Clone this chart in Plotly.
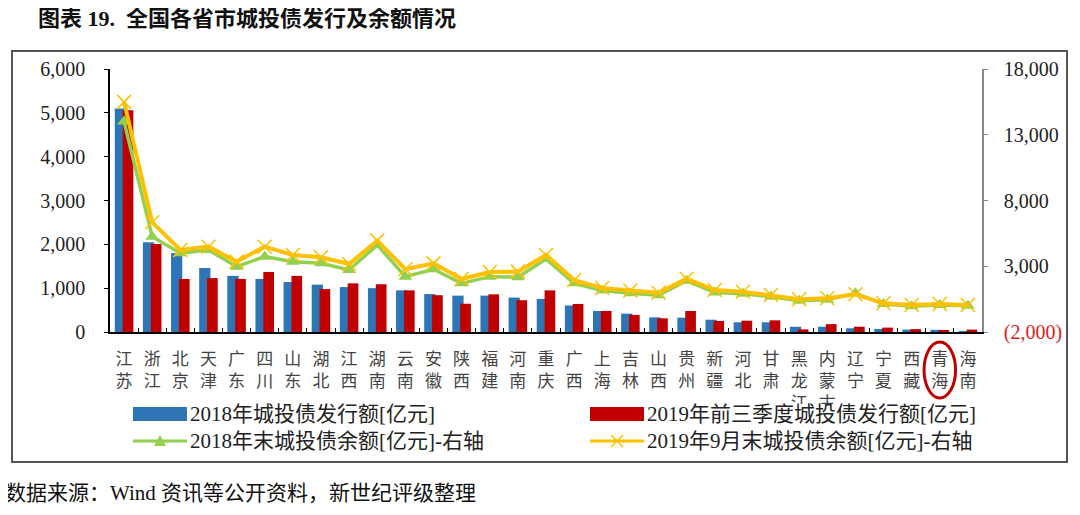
import plotly.graph_objects as go

provinces = ["江苏", "浙江", "北京", "天津", "广东", "四川", "山东", "湖北", "江西", "湖南",
             "云南", "安徽", "陕西", "福建", "河南", "重庆", "广西", "上海", "吉林", "山西",
             "贵州", "新疆", "河北", "甘肃", "黑龙江", "内蒙古", "辽宁", "宁夏", "西藏", "青海", "海南"]

issue_2018 = [5100, 2050, 1800, 1460, 1280, 1210, 1140, 1080, 1025, 1000,
              950, 865, 830, 830, 785, 755, 605, 480, 418, 335,
              327, 280, 222, 222, 120, 120, 85, 70, 55, 50, 5]
issue_2019q3 = [5060, 2005, 1210, 1230, 1210, 1370, 1280, 980, 1110, 1090,
                950, 840, 645, 860, 725, 950, 640, 480, 390, 312,
                479, 252, 258, 266, 60, 180, 120, 100, 65, 45, 55]
balance_2018 = [14000, 5250, 3990, 4240, 2970, 3730, 3350, 3220, 2720, 4620,
                2210, 2770, 1700, 2210, 2170, 3550, 1700, 1150, 950, 800,
                1900, 1000, 900, 680, 380, 450, 950, 120, -40, 60, -10]
balance_2019m9 = [15500, 6340, 4240, 4490, 3350, 4490, 3860, 3680, 3170, 4950,
                  2770, 3220, 2030, 2560, 2590, 3860, 1950, 1350, 1150, 990,
                  2050, 1190, 1065, 815, 490, 560, 870, 180, 55, 130, 55]

series_names = ["2018年城投债发行额[亿元]", "2019年前三季度城投债发行额[亿元]",
                "2018年末城投债余额[亿元]-右轴", "2019年9月末城投债余额[亿元]-右轴"]

left_ticks = [0, 1000, 2000, 3000, 4000, 5000, 6000]
right_ticks = [-2000, 3000, 8000, 13000, 18000]
right_tick_text = ['<span style="color:#E0201E">(2,000)</span>', "3,000", "8,000", "13,000", "18,000"]

x_labels = ["<br>".join(list(p)) for p in provinces]

BLUE, RED, GREEN, YELLOW = "#2E75B6", "#C00000", "#92D050", "#FFC000"
CJK = "Liberation Serif, Noto Sans CJK SC, serif"

fig = go.Figure()
fig.add_trace(go.Bar(
    x=x_labels, y=issue_2018, name=series_names[0],
    marker=dict(color=BLUE, line=dict(width=0)), offset=-0.33, width=0.40))
fig.add_trace(go.Bar(
    x=x_labels, y=issue_2019q3, name=series_names[1],
    marker=dict(color=RED, line=dict(width=0)), offset=-0.05, width=0.38))
fig.add_trace(go.Scatter(
    x=x_labels, y=balance_2018, name=series_names[2], yaxis="y2",
    mode="lines+markers", line=dict(color=GREEN, width=3.5),
    marker=dict(symbol="triangle-up", size=12, color=GREEN)))
fig.add_trace(go.Scatter(
    x=x_labels, y=balance_2019m9, name=series_names[3], yaxis="y2",
    mode="lines+markers", line=dict(color=YELLOW, width=4),
    marker=dict(symbol="x-thin", size=14, color=YELLOW, line=dict(color=YELLOW, width=1.5))))

# page offset of the plotly div (body margin) = 8px
OFF = 8
W, H = 1080, 515
L, R, T, B = 110, 982, 69, 332   # plot area in page pixels
pw, ph = R - L, B - T


def fx(xp):
    return (xp - L) / pw


def fy(yp):
    return (B - yp) / ph


fig.update_layout(
    width=W, height=H,
    margin=dict(l=L - OFF, r=W - (R - OFF), t=T - OFF, b=H - (B - OFF)),
    paper_bgcolor="white", plot_bgcolor="white",
    barmode="overlay",
    showlegend=False,
    xaxis=dict(
        type="category", showgrid=False, showline=True, linecolor="#000", linewidth=1.5,
        ticks="inside", ticklen=4, tickcolor="#000", tickson="boundaries",
        tickfont=dict(family="Noto Sans CJK SC", size=17, color="#444"),
        ticklabelstandoff=11, automargin=False,
        tickangle=0, range=[-0.5, len(provinces) - 0.5]),
    yaxis=dict(
        range=[0, 6000], tickvals=left_ticks, tickformat=",", showgrid=False,
        showline=True, linecolor="#000", linewidth=1.5, ticks="outside", ticklen=4,
        tickcolor="#000", tickfont=dict(family="Liberation Serif", size=20, color="#222"),
        ticklabelstandoff=15, zeroline=False, automargin=False),
    yaxis2=dict(
        overlaying="y", side="right", range=[-2000, 18000], tickvals=right_ticks,
        ticktext=right_tick_text, showgrid=False, showline=True, linecolor="#888",
        linewidth=1.5, ticks="outside", ticklen=4, tickcolor="#888",
        tickfont=dict(family="Liberation Serif", size=20, color="#222"),
        ticklabelstandoff=12, zeroline=False, automargin=False),
    font=dict(family=CJK),
)

shapes = []
# outer box
shapes.append(dict(type="rect", xref="paper", yref="paper",
                   x0=fx(12), x1=fx(1067), y0=fy(462), y1=fy(51),
                   line=dict(color="#555", width=2), fillcolor="rgba(0,0,0,0)", layer="below"))
# red ellipse around 青海
qi = provinces.index("青海")
shapes.append(dict(type="circle", xref="x", yref="paper",
                   x0=qi - 0.56, x1=qi + 0.56, y0=fy(398), y1=fy(342),
                   line=dict(color="#C00000", width=3), layer="above"))

# manual legend (2 columns x 2 rows)
cols = [133, 590]
rows = [414, 441]
sym_w = 54
# white band behind the legend (covers the overflowing third row of axis labels, as in the source)
shapes.append(dict(type="rect", xref="paper", yref="paper",
                   x0=fx(125), x1=fx(985), y0=fy(455), y1=fy(404),
                   line=dict(width=0), fillcolor="white", layer="above"))
# row 1: bar swatches
for cx, col in zip(cols, [BLUE, RED]):
    shapes.append(dict(type="rect", xref="paper", yref="paper",
                       x0=fx(cx), x1=fx(cx + sym_w), y0=fy(rows[0] + 7), y1=fy(rows[0] - 7),
                       line=dict(width=0), fillcolor=col, layer="above"))
# row 2: line swatches
for cx, col in zip(cols, [GREEN, YELLOW]):
    shapes.append(dict(type="line", xref="paper", yref="paper",
                       x0=fx(cx), x1=fx(cx + sym_w), y0=fy(rows[1]), y1=fy(rows[1]),
                       line=dict(color=col, width=3), layer="above"))
# triangle marker
mx = cols[0] + sym_w / 2
shapes.append(dict(type="path", xref="paper", yref="paper",
                   path=f"M {fx(mx-6)} {fy(rows[1]+5)} L {fx(mx+6)} {fy(rows[1]+5)} L {fx(mx)} {fy(rows[1]-6)} Z",
                   line=dict(width=0), fillcolor=GREEN, layer="above"))
# x marker
mx = cols[1] + sym_w / 2
for dy in (-1, 1):
    shapes.append(dict(type="line", xref="paper", yref="paper",
                       x0=fx(mx - 6), x1=fx(mx + 6), y0=fy(rows[1] - 6 * dy), y1=fy(rows[1] + 6 * dy),
                       line=dict(color=YELLOW, width=1.5), layer="above"))
fig.update_layout(shapes=shapes)

for i, name in enumerate(series_names):
    cx = cols[i % 2] + sym_w + 1
    ry = rows[i // 2]
    fig.add_annotation(text=name, xref="paper", yref="paper", x=fx(cx), y=fy(ry),
                       xanchor="left", yanchor="middle", showarrow=False,
                       font=dict(family=CJK, size=21, color="#222"))

fig.add_annotation(text="<b>图表 19.  全国各省市城投债发行及余额情况</b>",
                   xref="paper", yref="paper", x=fx(36), y=fy(19),
                   xanchor="left", yanchor="middle", showarrow=False,
                   font=dict(family=CJK, size=22, color="#111"))
fig.add_annotation(text="数据来源：Wind 资讯等公开资料，新世纪评级整理",
                   xref="paper", yref="paper", x=fx(3), y=fy(493),
                   xanchor="left", yanchor="middle", showarrow=False,
                   font=dict(family=CJK, size=21, color="#111"))

fig.write_html("out.html")
